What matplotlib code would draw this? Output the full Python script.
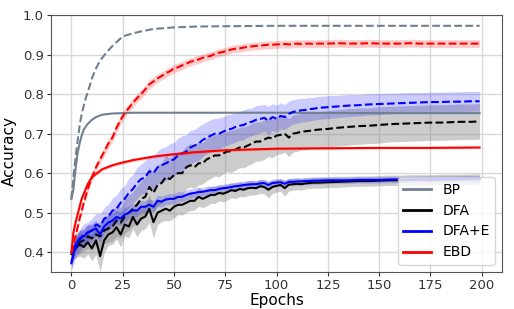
import numpy as np
import matplotlib
matplotlib.use("Agg")
import matplotlib.pyplot as plt

# ---------------- data ----------------
# sampling epochs of the noisy series
epochs_n = list(range(0, 121, 2)) + list(range(125, 200, 5)) + [199]

# BP (smooth curves)
bp_ep = [0, 1, 2, 3, 4, 5, 6, 7, 8, 10, 12, 14, 17, 20, 25, 30, 35, 40, 50, 60, 75, 100, 150, 199]
bp_test = [0.535, 0.59, 0.64, 0.68, 0.72, 0.75, 0.77, 0.79, 0.805, 0.84, 0.865, 0.885, 0.905, 0.922,
           0.946, 0.954, 0.96, 0.965, 0.969, 0.971, 0.972, 0.973, 0.973, 0.973]
bp_ep2 = [0, 1, 2, 3, 4, 5, 6, 8, 10, 12, 15, 20, 30, 50, 100, 150, 199]
bp_train = [0.535, 0.56, 0.61, 0.65, 0.675, 0.695, 0.71, 0.725, 0.735, 0.742, 0.748, 0.751,
            0.753, 0.753, 0.753, 0.752, 0.752]

# DFA
dfa_test = [0.40, 0.42, 0.425, 0.43, 0.44, 0.435, 0.445, 0.44, 0.455, 0.46, 0.465,
            0.48, 0.475, 0.49, 0.50, 0.51, 0.52, 0.535, 0.54, 0.565, 0.55,
            0.57, 0.575, 0.59, 0.585, 0.595, 0.60, 0.60, 0.615, 0.62, 0.615,
            0.625, 0.625, 0.635, 0.64, 0.645, 0.645, 0.65, 0.655, 0.655, 0.66,
            0.665, 0.665, 0.67, 0.675, 0.68, 0.68, 0.685, 0.69, 0.688, 0.695,
            0.697, 0.70, 0.69, 0.70, 0.702, 0.705, 0.706, 0.707, 0.709, 0.71,
            0.712, 0.715, 0.717, 0.719, 0.72, 0.722, 0.724, 0.725, 0.726, 0.727, 0.728, 0.728, 0.729, 0.73, 0.73,
            0.731]
dfa_test_sd = [0.02, 0.025, 0.03, 0.028, 0.03, 0.032, 0.03, 0.035, 0.033, 0.035, 0.037,
               0.04, 0.038, 0.042, 0.045, 0.043, 0.048, 0.045, 0.05, 0.05, 0.048,
               0.052, 0.05, 0.055, 0.052, 0.055, 0.053, 0.056, 0.054, 0.055, 0.053,
               0.055, 0.052, 0.054, 0.053, 0.052, 0.054, 0.052, 0.051, 0.053, 0.052,
               0.051, 0.052, 0.05, 0.051, 0.05, 0.049, 0.05, 0.048, 0.049, 0.048,
               0.048, 0.047, 0.048, 0.047, 0.047, 0.046, 0.047, 0.046, 0.046, 0.046,
               0.046, 0.046, 0.046, 0.046, 0.045, 0.046, 0.045, 0.045, 0.045, 0.045, 0.045, 0.045, 0.045, 0.045, 0.045,
               0.045]
dfa_train = [0.395, 0.41, 0.42, 0.413, 0.425, 0.41, 0.43, 0.39, 0.43, 0.445, 0.45,
             0.463, 0.445, 0.47, 0.465, 0.489, 0.47, 0.485, 0.49, 0.51, 0.476,
             0.50, 0.505, 0.51, 0.505, 0.515, 0.52, 0.52, 0.525, 0.53, 0.53,
             0.54, 0.535, 0.54, 0.545, 0.545, 0.55, 0.548, 0.552, 0.557, 0.555,
             0.56, 0.558, 0.562, 0.563, 0.562, 0.567, 0.565, 0.558, 0.565, 0.568,
             0.57, 0.562, 0.571, 0.572, 0.573, 0.572, 0.574, 0.575, 0.576, 0.576,
             0.577, 0.578, 0.579, 0.58, 0.58, 0.581, 0.582, 0.582, 0.583, 0.583, 0.583, 0.584, 0.584, 0.584, 0.585,
             0.585]
dfa_train_sd = [0.015, 0.025, 0.03, 0.028, 0.03, 0.032, 0.035, 0.04, 0.03, 0.028, 0.03,
                0.03, 0.032, 0.03, 0.028, 0.03, 0.032, 0.03, 0.03, 0.035, 0.04,
                0.03, 0.028, 0.03, 0.026, 0.028, 0.025, 0.026, 0.024, 0.025, 0.023,
                0.024, 0.022, 0.023, 0.021, 0.022, 0.02, 0.021, 0.02, 0.019, 0.02,
                0.019, 0.018, 0.019, 0.018, 0.017, 0.018, 0.017, 0.02, 0.017, 0.016,
                0.016, 0.02, 0.016, 0.015, 0.015, 0.015, 0.014, 0.014, 0.014, 0.014,
                0.014, 0.014, 0.013, 0.013, 0.013, 0.013, 0.013, 0.013, 0.013, 0.013, 0.013, 0.013, 0.013, 0.013, 0.013,
                0.013]

# DFA+E
dfae_test = [0.375, 0.41, 0.43, 0.445, 0.45, 0.455, 0.47, 0.465, 0.485, 0.49, 0.505,
             0.51, 0.525, 0.535, 0.55, 0.56, 0.575, 0.585, 0.59, 0.605, 0.60,
             0.615, 0.62, 0.625, 0.63, 0.635, 0.645, 0.65, 0.655, 0.665, 0.67,
             0.675, 0.684, 0.69, 0.695, 0.70, 0.70, 0.705, 0.71, 0.712, 0.717,
             0.72, 0.722, 0.728, 0.73, 0.735, 0.737, 0.74, 0.733, 0.742, 0.738,
             0.745, 0.742, 0.75, 0.755, 0.757, 0.759, 0.76, 0.762, 0.763, 0.765,
             0.767, 0.769, 0.771, 0.772, 0.774, 0.775, 0.776, 0.777, 0.778, 0.779, 0.78, 0.78, 0.781, 0.781, 0.782,
             0.782]
dfae_test_sd = [0.02, 0.025, 0.028, 0.027, 0.026, 0.03, 0.028, 0.032, 0.028, 0.031, 0.032,
                0.034, 0.036, 0.033, 0.038, 0.036, 0.04, 0.038, 0.042, 0.04, 0.043,
                0.041, 0.044, 0.042, 0.045, 0.042, 0.044, 0.045, 0.042, 0.043, 0.041,
                0.043, 0.041, 0.04, 0.041, 0.039, 0.04, 0.038, 0.039, 0.037, 0.038,
                0.037, 0.038, 0.036, 0.035, 0.036, 0.035, 0.034, 0.036, 0.034, 0.034,
                0.033, 0.032, 0.032, 0.031, 0.031, 0.03, 0.03, 0.03, 0.029, 0.029,
                0.029, 0.028, 0.028, 0.027, 0.027, 0.027, 0.026, 0.026, 0.026, 0.025, 0.025, 0.025, 0.025, 0.025, 0.025,
                0.025]
dfae_train = [0.372, 0.42, 0.435, 0.44, 0.45, 0.455, 0.46, 0.445, 0.465, 0.475, 0.48,
              0.489, 0.485, 0.495, 0.50, 0.506, 0.505, 0.515, 0.515, 0.52, 0.515,
              0.53, 0.528, 0.533, 0.535, 0.535, 0.54, 0.54, 0.545, 0.548, 0.55,
              0.552, 0.553, 0.555, 0.557, 0.557, 0.56, 0.562, 0.563, 0.565, 0.567,
              0.568, 0.57, 0.571, 0.572, 0.572, 0.574, 0.575, 0.57, 0.575, 0.576,
              0.577, 0.573, 0.578, 0.578, 0.579, 0.579, 0.58, 0.58, 0.581, 0.581,
              0.582, 0.582, 0.582, 0.583, 0.583, 0.583, 0.584, 0.584, 0.584, 0.585, 0.585, 0.585, 0.585, 0.586, 0.586,
              0.586]
dfae_train_sd = [0.015, 0.018, 0.02, 0.018, 0.02, 0.018, 0.02, 0.022, 0.018, 0.02, 0.018,
                 0.018, 0.017, 0.018, 0.016, 0.017, 0.016, 0.015, 0.016, 0.015, 0.015,
                 0.014, 0.014, 0.013, 0.014, 0.013, 0.013, 0.012, 0.013, 0.012, 0.012,
                 0.012, 0.011, 0.012, 0.011, 0.011, 0.011, 0.01, 0.011, 0.01, 0.01,
                 0.01, 0.01, 0.01, 0.01, 0.01, 0.01, 0.01, 0.01, 0.01, 0.01,
                 0.009, 0.009, 0.009, 0.009, 0.009, 0.009, 0.009, 0.009, 0.009, 0.009,
                 0.008, 0.008, 0.008, 0.008, 0.008, 0.008, 0.008, 0.008, 0.008, 0.008, 0.008, 0.008, 0.008, 0.008, 0.008,
                 0.008]

# EBD
ebd_test = [0.397, 0.44, 0.485, 0.525, 0.56, 0.59, 0.615, 0.635, 0.655, 0.675, 0.69,
            0.715, 0.735, 0.752, 0.765, 0.778, 0.79, 0.80, 0.812, 0.825, 0.832,
            0.84, 0.846, 0.853, 0.858, 0.865, 0.868, 0.873, 0.877, 0.882, 0.885,
            0.888, 0.892, 0.895, 0.897, 0.902, 0.905, 0.907, 0.91, 0.913, 0.915,
            0.916, 0.918, 0.92, 0.921, 0.922, 0.923, 0.924, 0.925, 0.925, 0.926,
            0.926, 0.927, 0.926, 0.927, 0.928, 0.927, 0.928, 0.928, 0.927, 0.928,
            0.928, 0.929, 0.928, 0.928, 0.929, 0.928, 0.928, 0.928, 0.929, 0.928, 0.928, 0.928, 0.928, 0.928, 0.928,
            0.928]
ebd_test_sd = [0.004, 0.006, 0.008, 0.009, 0.01, 0.01, 0.011, 0.01, 0.011, 0.012, 0.011,
               0.012, 0.011, 0.012, 0.011, 0.012, 0.011, 0.012, 0.011, 0.012, 0.011,
               0.011, 0.01, 0.011, 0.01, 0.011, 0.01, 0.011, 0.01, 0.01, 0.01,
               0.01, 0.01, 0.01, 0.01, 0.01, 0.01, 0.01, 0.01, 0.01, 0.01,
               0.01, 0.01, 0.01, 0.01, 0.01, 0.01, 0.01, 0.01, 0.01, 0.01,
               0.01, 0.01, 0.01, 0.01, 0.01, 0.01, 0.01, 0.01, 0.01, 0.01,
               0.01, 0.01, 0.01, 0.01, 0.01, 0.01, 0.01, 0.01, 0.01, 0.01, 0.01, 0.01, 0.01, 0.01, 0.01,
               0.01]
ebd_ep = [0, 1, 2, 3, 5, 8, 10, 15, 20, 25, 30, 40, 50, 60, 75, 100, 125, 150, 175, 199]
ebd_train = [0.40, 0.45, 0.475, 0.495, 0.535, 0.573, 0.59, 0.61, 0.62, 0.627, 0.633, 0.642,
             0.648, 0.653, 0.658, 0.662, 0.663, 0.664, 0.664, 0.665]
ebd_train_sd = [0.002, 0.004, 0.004, 0.004, 0.004, 0.004, 0.004, 0.004, 0.004, 0.004, 0.004,
                0.004, 0.004, 0.004, 0.003, 0.003, 0.003, 0.003, 0.003, 0.003]

labels = ["BP", "DFA", "DFA+E", "EBD"]
colors = {"BP": "#708090", "DFA": "black", "DFA+E": "blue", "EBD": "red"}
band_colors = {"DFA": "gray", "DFA+E": "blue", "EBD": "red"}
band_alpha = {"DFA": 0.4, "DFA+E": 0.2, "EBD": 0.2}

# ---------------- plot ----------------
fig = plt.figure(figsize=(5.14, 3.09), dpi=100)
ax = fig.add_axes([0.099, 0.12, 0.878, 0.831])

def band(x, m, s, key):
    m = np.asarray(m); s = np.asarray(s)
    ax.fill_between(x, m - s, m + s, color=band_colors[key], alpha=band_alpha[key], lw=0)

lw = 1.5
ax.plot(bp_ep2, bp_train, color=colors["BP"], lw=lw, label="BP")
ax.plot(bp_ep, bp_test, color=colors["BP"], lw=lw, ls="--")

band(epochs_n, dfa_train, dfa_train_sd, "DFA")
band(epochs_n, dfa_test, dfa_test_sd, "DFA")
ax.plot(epochs_n, dfa_train, color=colors["DFA"], lw=lw, label="DFA")
ax.plot(epochs_n, dfa_test, color=colors["DFA"], lw=lw, ls="--")

band(epochs_n, dfae_train, dfae_train_sd, "DFA+E")
band(epochs_n, dfae_test, dfae_test_sd, "DFA+E")
ax.plot(epochs_n, dfae_train, color=colors["DFA+E"], lw=lw, label="DFA+E")
ax.plot(epochs_n, dfae_test, color=colors["DFA+E"], lw=lw, ls="--")

band(ebd_ep, ebd_train, ebd_train_sd, "EBD")
band(epochs_n, ebd_test, ebd_test_sd, "EBD")
ax.plot(ebd_ep, ebd_train, color=colors["EBD"], lw=lw, label="EBD")
ax.plot(epochs_n, ebd_test, color=colors["EBD"], lw=lw, ls="--")

ax.set_xlim(-10, 210)
ax.set_ylim(0.35, 1.0)
ax.set_xticks([0, 25, 50, 75, 100, 125, 150, 175, 200])
ax.set_yticks([0.4, 0.5, 0.6, 0.7, 0.8, 0.9, 1.0])
ax.grid(True, color="#d9d9d9", lw=1.0)
ax.set_axisbelow(True)
ax.tick_params(labelsize=9.5, colors="#333333", length=3, pad=2)
for sp in ax.spines.values():
    sp.set_color("#555555")
ax.set_xlabel("Epochs", fontsize=11, labelpad=1)
ax.set_ylabel("Accuracy", fontsize=11)
ax.yaxis.set_label_coords(-0.075, 0.47)
leg = ax.legend(loc="lower right", fontsize=10)
for h in leg.get_lines():
    h.set_linewidth(2)

fig.savefig("out.png", dpi=100)
